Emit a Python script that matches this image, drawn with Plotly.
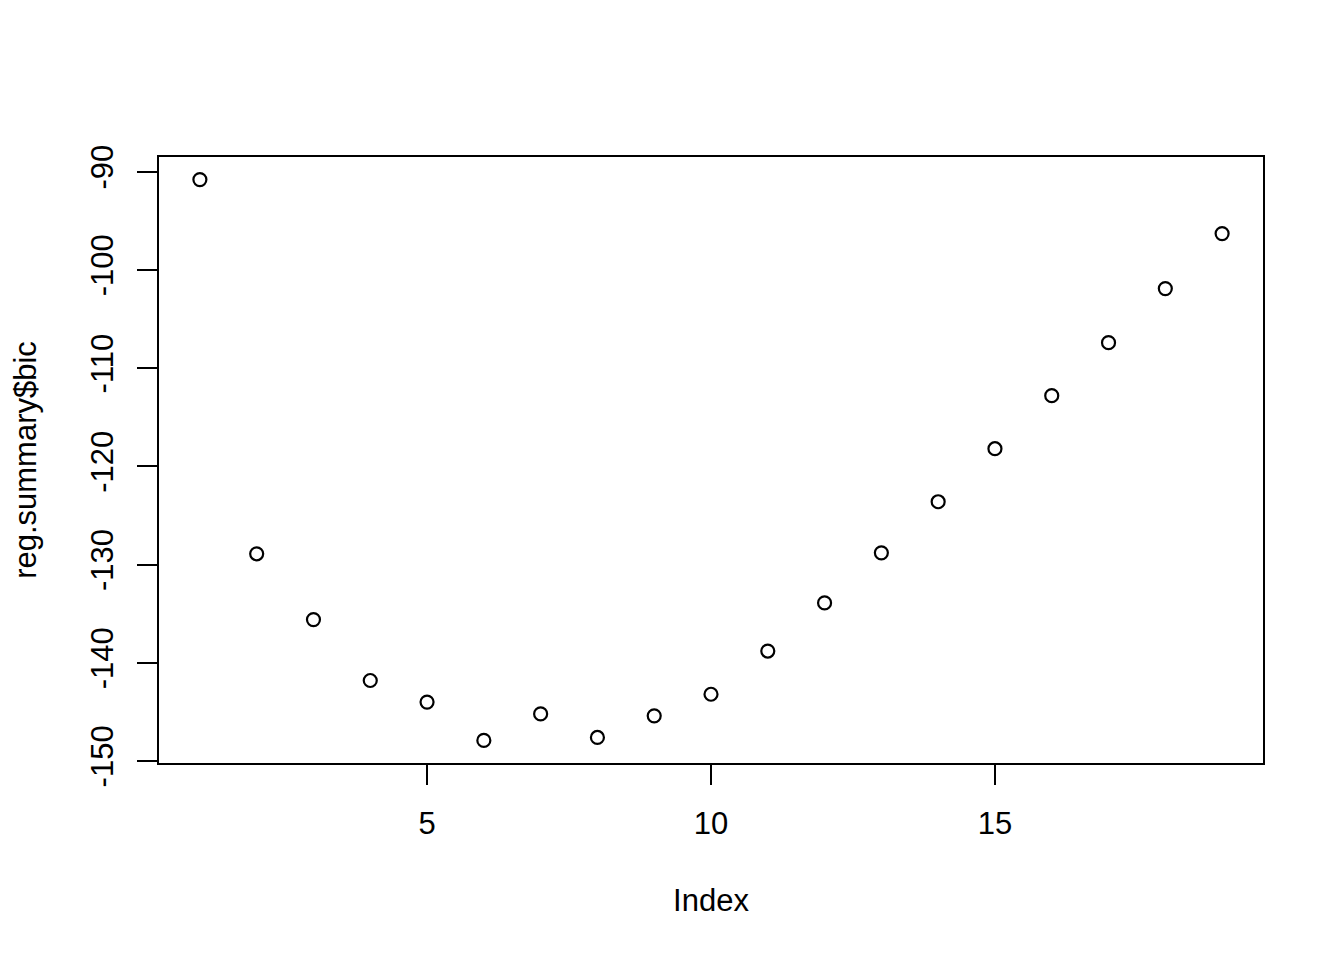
import plotly.graph_objects as go

index = list(range(1, 20))
bic = [-90.8, -128.9, -135.6, -141.8, -144.0, -147.9, -145.2, -147.6, -145.4,
       -143.2, -138.8, -133.9, -128.8, -123.6, -118.2, -112.8, -107.4, -101.9, -96.3]

x_ticks = [5, 10, 15]
y_ticks = [-150, -140, -130, -120, -110, -100, -90]
y_tick_text = ["-150", "-140", "-130", "-120", "-110", "-100", "-90"]

FONT = "Liberation Sans, Arial, sans-serif"

fig = go.Figure(go.Scatter(
    x=index, y=bic, mode="markers",
    marker=dict(symbol="circle-open", size=13, color="black", line=dict(width=2.2, color="black")),
    showlegend=False,
))

fig.update_layout(
    width=1344, height=960,
    margin=dict(l=148, r=89, t=149, b=205),
    paper_bgcolor="white", plot_bgcolor="white",
    font=dict(family=FONT, size=31, color="black"),
)
fig.update_xaxes(
    range=[0.28, 19.72], tickvals=x_ticks, ticks="outside", ticklen=20, tickwidth=2,
    tickcolor="black", showline=True, linewidth=2, linecolor="black", mirror=True,
    showgrid=False, zeroline=False, ticklabelstandoff=12,
    title=dict(text="Index", standoff=49, font=dict(size=31)),
)
fig.update_yaxes(
    range=[-150.2, -88.5], tickvals=y_ticks, ticktext=y_tick_text, ticks="outside",
    ticklen=20, tickwidth=2,
    tickcolor="black", showline=True, linewidth=2, linecolor="black", mirror=True,
    showgrid=False, zeroline=False, tickangle=-90, ticklabelstandoff=12,
    title=dict(text="reg.summary$bic", standoff=43, font=dict(size=31)),
)

fig.write_html("out.html")
